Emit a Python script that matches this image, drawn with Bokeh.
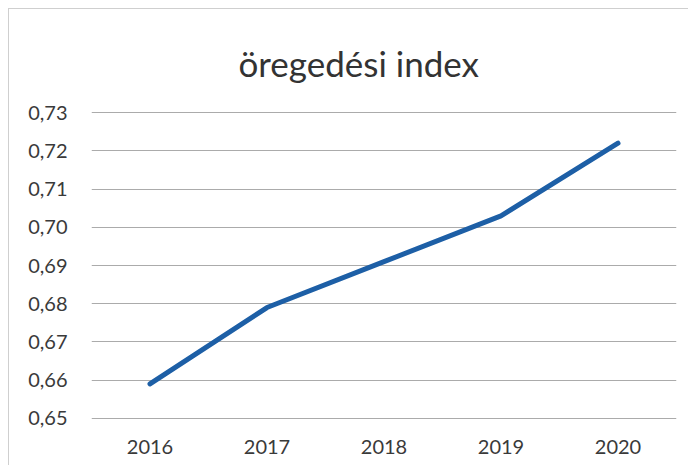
from bokeh.plotting import figure
from bokeh.models import FactorRange, Range1d, FixedTicker
from bokeh.embed import file_html
from bokeh.resources import INLINE

title_text = "öregedési index"
years = ["2016", "2017", "2018", "2019", "2020"]
values = [0.659, 0.679, 0.691, 0.703, 0.722]
y_ticks = [0.65, 0.66, 0.67, 0.68, 0.69, 0.70, 0.71, 0.72, 0.73]
y_labels = ["0,65", "0,66", "0,67", "0,68", "0,69", "0,70", "0,71", "0,72", "0,73"]

FONT = "Lato"
W, H = 680, 457
ML, MR, MT, MB = 82, 13, 102, 47
Y0, Y1 = 0.6497, 0.7303

p = figure(x_range=FactorRange(*years, range_padding=0), y_range=Range1d(Y0, Y1),
           width=W, height=H, output_backend="svg", toolbar_location=None,
           min_border_left=ML, min_border_right=MR, min_border_top=MT, min_border_bottom=MB,
           title=title_text)
p.outline_line_color = None
p.background_fill_color = "white"
p.border_fill_color = "white"

p.title.align = "left"
p.title.offset = 147
p.title.text_font = FONT
p.title.text_font_size = "35px"
p.title.text_font_style = "normal"
p.title.text_color = "#333333"
p.title.standoff = 55

p.line(years, values, line_color="#1d5fa6", line_width=5, line_cap="round", line_join="round")

p.xgrid.grid_line_color = None
p.ygrid.grid_line_color = "#ababab"
p.ygrid.grid_line_width = 1

p.yaxis.ticker = FixedTicker(ticks=y_ticks)
p.yaxis.major_label_overrides = {t: l for t, l in zip(y_ticks, y_labels)}
for ax in (p.xaxis[0], p.yaxis[0]):
    ax.axis_line_color = None
    ax.major_tick_line_color = None
    ax.minor_tick_line_color = None
    ax.major_label_text_font = FONT
    ax.major_label_text_font_size = "20px"
    ax.major_label_text_color = "#3a3a3a"
p.yaxis.major_label_standoff = 18
p.xaxis.major_label_standoff = 14

p.styles = {"margin-left": "8px", "margin-top": "8px",
            "border-left": "1px solid #cfcfcf", "border-top": "1px solid #cfcfcf"}

open("out.html", "w").write(file_html(p, INLINE))
